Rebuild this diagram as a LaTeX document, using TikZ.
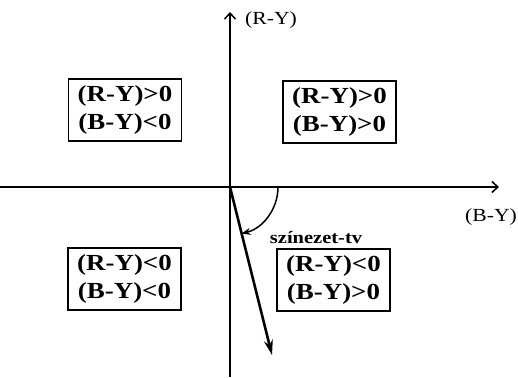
\documentclass[tikz,border=0pt]{standalone}
\usepackage{fontspec}
\setmainfont{Liberation Serif}
\usetikzlibrary{arrows.meta}
\tikzset{
  quad/.style={rectangle, draw, line width=1.3pt, minimum width=113pt, minimum height=62pt, inner sep=0pt, align=center, font=\bfseries\fontsize{23}{28}\selectfont},
  axis/.style={line width=1.8pt, -{Straight Barb[length=6pt, width=11pt, line width=1.5pt]}},
  vec/.style={line width=2.6pt, -{Stealth[length=15pt, width=9pt]}},
  angarc/.style={line width=1.5pt, -{Stealth[length=9pt, width=7pt]}},
  axlbl/.style={font=\fontsize{18.5}{20}\selectfont},
  huelbl/.style={font=\bfseries\fontsize{17.5}{19}\selectfont}
}
% stretched text, the letters are wide in the figure
\newcommand{\wide}[1]{\scalebox{1.17}[1]{#1}}

\begin{document}
\begin{tikzpicture}[x=1pt, y=1pt]
  \useasboundingbox (0,0) rectangle (518,377);

  % axes
  \coordinate (O) at (230,190);
  \coordinate (vtop) at (230,365);
  \coordinate (vbot) at (230,0);
  \coordinate (hleft) at (0,190);
  \coordinate (hright) at (499,190);
  \draw[axis] (vbot) -- (vtop);
  \draw[axis] (hleft) -- (hright);
  \node[axlbl] (ry) at (271,357) {\wide{(R-Y)}};
  \node[axlbl] (by) at (491,160) {\wide{(B-Y)}};

  % the four quadrants
  \node[quad] (q2) at (125,267) {\wide{(R-Y)>0}\\\wide{(B-Y)<0}};
  \node[quad] (q1) at (339.5,265) {\wide{(R-Y)>0}\\\wide{(B-Y)>0}};
  \node[quad] (q3) at (124.5,98) {\wide{(R-Y)<0}\\\wide{(B-Y)<0}};
  \node[quad] (q4) at (333.5,97) {\wide{(R-Y)<0}\\\wide{(B-Y)>0}};

  % colour vector and its angle
  \coordinate (tip) at (272,22);
  \draw[vec] (O) -- (tip);
  \coordinate (arcS) at (278,190);
  \draw[angarc] (arcS) arc[start angle=0, end angle=-76, radius=48pt];
  \node[huelbl] (hue) at (316,139) {\wide{színezet-tv}};
\end{tikzpicture}
\end{document}
